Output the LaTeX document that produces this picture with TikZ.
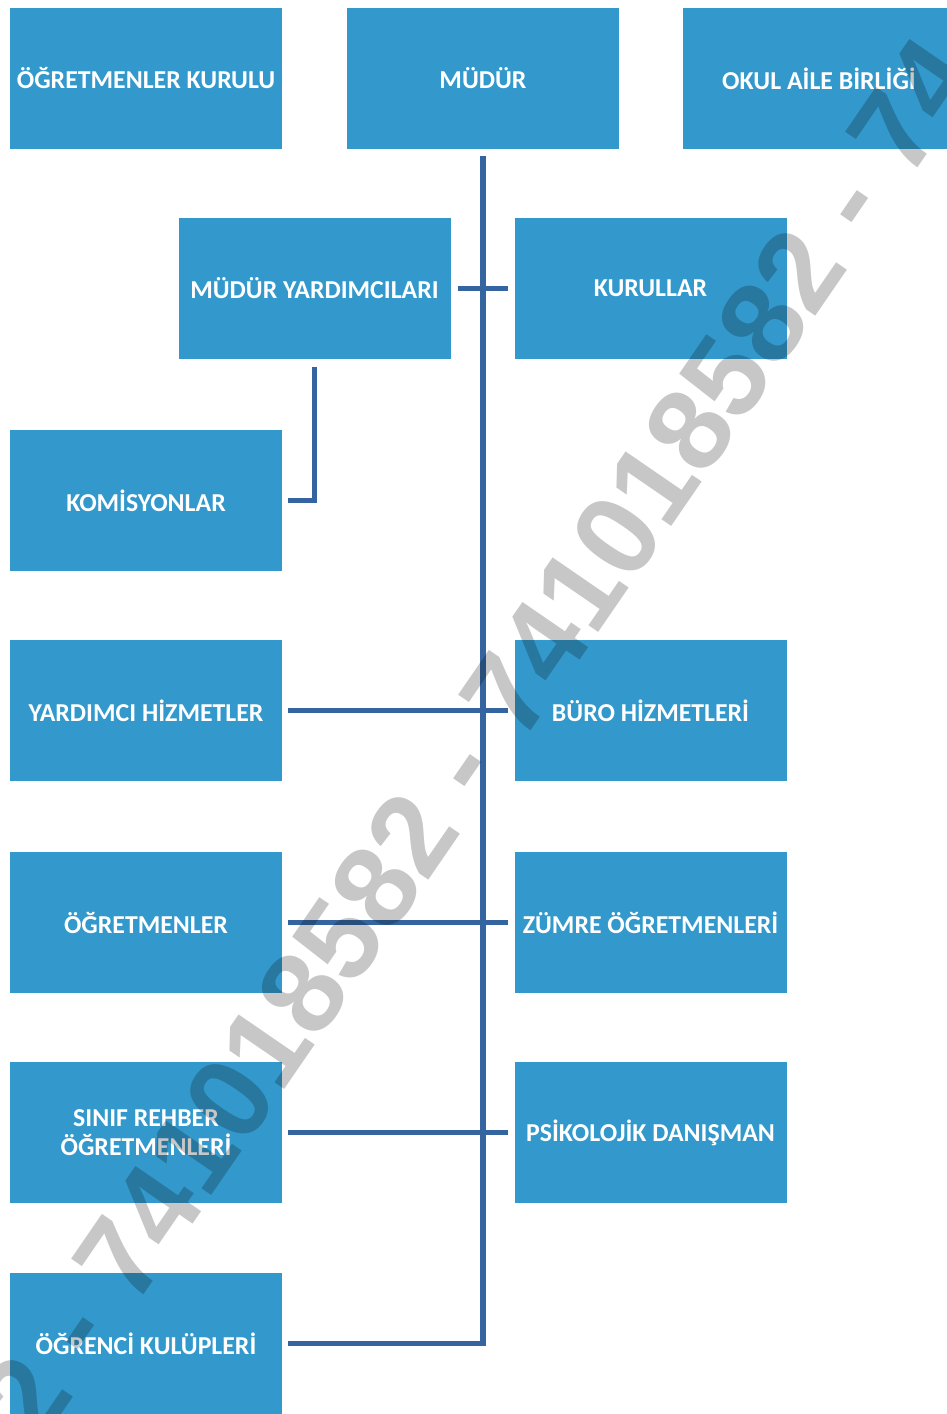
\documentclass[tikz,border=0pt]{standalone}
\usepackage{fontspec}
\setmainfont{Carlito}
\newfontfamily\wmfont{Liberation Sans}
\definecolor{boxblue}{RGB}{51,153,204}
\definecolor{lineblue}{RGB}{52,101,160}
\begin{document}
\begin{tikzpicture}[x=1pt,y=-1pt,
  orgbox/.style={fill=boxblue, minimum width=272pt, minimum height=141pt, inner sep=0pt,
    text=white, font=\fontsize{25.8}{28.5}\selectfont\bfseries, align=center},
  conn/.style={draw=lineblue, line width=5.5pt}]
\useasboundingbox (0,0) rectangle (947,1414);
\clip (0,0) rectangle (947,1414);
\fill[white] (0,0) rectangle (947,1414);
% boxes
\node[orgbox] (ok)  at (146,78.5)   {ÖĞRETMENLER KURULU};
\node[orgbox] (m)   at (483,78.5)   {MÜDÜR};
\node[orgbox] (oab) at (819,78.5)   {OKUL AİLE BİRLİĞİ};
\node[orgbox] (my)  at (314.5,288.5) {MÜDÜR YARDIMCILARI};
\node[orgbox] (kur) at (650.5,288.5) {KURULLAR};
\node[orgbox] (kom) at (146,500.5)  {KOMİSYONLAR};
\node[orgbox] (yh)  at (146,710.5)  {YARDIMCI HİZMETLER};
\node[orgbox] (bh)  at (650.5,710.5) {BÜRO HİZMETLERİ};
\node[orgbox] (og)  at (146,922.5)  {ÖĞRETMENLER};
\node[orgbox] (zo)  at (650.5,922.5) {ZÜMRE ÖĞRETMENLERİ};
\node[orgbox] (sr)  at (146,1132.5) {SINIF REHBER\\ÖĞRETMENLERİ};
\node[orgbox] (pd)  at (650.5,1132.5) {PSİKOLOJİK DANIŞMAN};
\node[orgbox] (ku)  at (146,1343.5) {ÖĞRENCİ KULÜPLERİ};
% connectors
\draw[conn] ([yshift=-7pt]m.south) |- ([xshift=6pt]ku.east);
\draw[conn] ([xshift=7pt]my.east) -- ([xshift=-6pt]kur.west);
\draw[conn] ([yshift=-8pt]my.south) |- ([xshift=6pt]kom.east);
\draw[conn] ([xshift=6pt]yh.east) -- ([xshift=-6pt]bh.west);
\draw[conn] ([xshift=6pt]og.east) -- ([xshift=-6pt]zo.west);
\draw[conn] ([xshift=6pt]sr.east) -- ([xshift=-6pt]pd.west);
% watermark
\node[rotate=55.5, inner sep=0pt, text=black, text opacity=0.22,
  font=\wmfont\bfseries\fontsize{116}{116}\selectfont] (wm) at (478,738)
  {2 - 741018582 - 741018582 - 74};
\end{tikzpicture}
\end{document}
